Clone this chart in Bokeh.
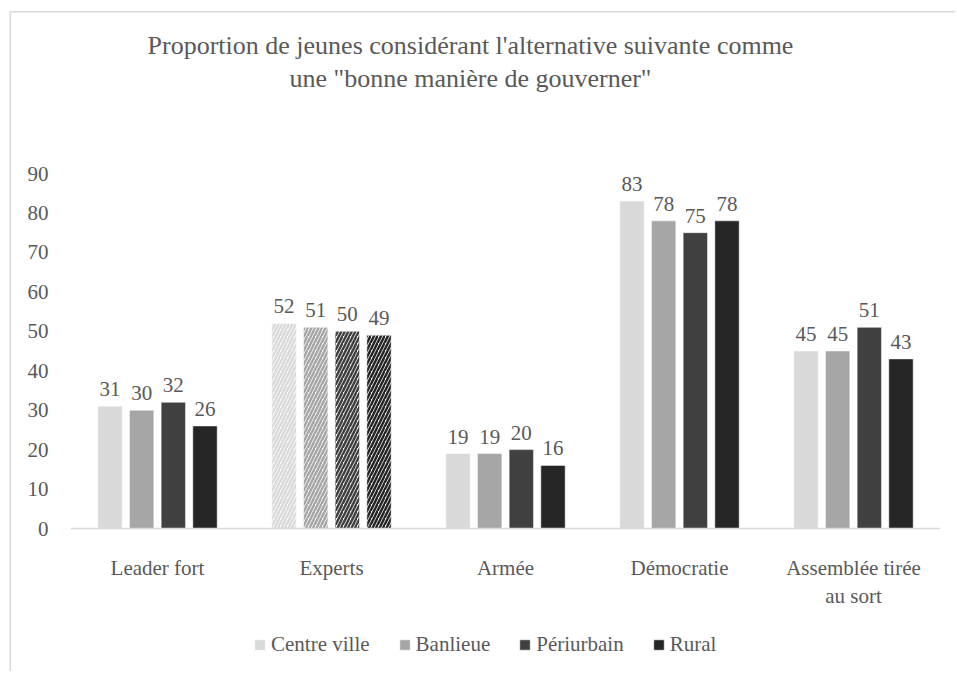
from bokeh.plotting import figure
from bokeh.models import ColumnDataSource, FactorRange, Legend, LegendItem, Label
from bokeh.transform import dodge
from bokeh.core.properties import value
from bokeh.embed import file_html
from bokeh.resources import INLINE

categories = ["Leader fort", "Experts", "Armée", "Démocratie", "Assemblée tirée\nau sort"]
series = ["Centre ville", "Banlieue", "Périurbain", "Rural"]
centre_ville = [31, 52, 19, 83, 45]
banlieue = [30, 51, 19, 78, 45]
periurbain = [32, 50, 20, 75, 51]
rural = [26, 49, 16, 78, 43]
colors = ["#d9d9d9", "#a6a6a6", "#404040", "#262626"]
hatched_category = "Experts"
y_ticks = [0, 10, 20, 30, 40, 50, 60, 70, 80, 90]
title_lines = ["Proportion de jeunes considérant l'alternative suivante comme",
               "une \"bonne manière de gouverner\""]

FONT = "Liberation Serif"
TXT = "#595959"
FS = "21px"

# frame covers the whole chart box; the value axis 0..90 sits at 528..173 px
FRAME_TOP, FRAME_BOTTOM = 12, 668
PX_PER_UNIT = (528 - 173) / 90.0
y_start = -(FRAME_BOTTOM - 528) / PX_PER_UNIT
y_end = (528 - FRAME_TOP) / PX_PER_UNIT

p = figure(x_range=FactorRange(*categories), y_range=(y_start, y_end),
           frame_width=870, frame_height=FRAME_BOTTOM - FRAME_TOP,
           output_backend="svg", toolbar_location=None,
           min_border_left=70, min_border_right=15, min_border_top=FRAME_TOP, min_border_bottom=3)
p.border_fill_color = None
p.background_fill_color = None
p.outline_line_color = None
p.styles = {"box-shadow": "inset 9.5px 11px 0 0 #ffffff, inset 11px 12.5px 0 0 #d9d9d9"}

# title lines (screen units relative to the frame's bottom-left corner)
for txt, page_y in zip(title_lines, [45, 78]):
    p.add_layout(Label(x=400, y=FRAME_BOTTOM - page_y, x_units="screen", y_units="screen", text=txt,
                       text_align="center", text_baseline="middle",
                       text_font=FONT, text_font_size="26px", text_color=TXT))

offsets = [-0.273, -0.091, 0.091, 0.273]
all_vals = [centre_ville, banlieue, periurbain, rural]
items = []
for name, vals, col, off in zip(series, all_vals, colors, offsets):
    fills = ["#ffffff" if c == hatched_category else col for c in categories]
    hatch = ["/" if c == hatched_category else " " for c in categories]
    src = ColumnDataSource(dict(x=categories, top=vals, fill=fills, hatch=hatch,
                                label=[str(v) for v in vals]))
    r = p.vbar(x=dodge("x", off, range=p.x_range), bottom=0, top="top", width=0.14, source=src,
               fill_color="fill", line_color="#ffffff", line_width=0.5,
               hatch_pattern="hatch", hatch_color=col, hatch_scale=7, hatch_weight=2.5)
    p.text(x=dodge("x", off, range=p.x_range), y="top", text="label", source=src,
           text_align="center", text_baseline="bottom", y_offset=-10,
           text_font=value(FONT), text_font_size=FS, text_color=TXT)
    items.append(LegendItem(label=name, renderers=[r], index=0))

p.xgrid.visible = False
p.ygrid.visible = False

p.yaxis.axis_line_color = None
p.yaxis.major_tick_line_color = None
p.yaxis.minor_tick_line_color = None
p.yaxis.major_tick_out = 0
p.yaxis.ticker = y_ticks
p.yaxis.major_label_standoff = 22
p.yaxis.major_label_text_font = FONT
p.yaxis.major_label_text_font_size = FS
p.yaxis.major_label_text_color = TXT

p.xaxis.fixed_location = 0
p.xaxis.axis_line_color = "#d9d9d9"
p.xaxis.axis_line_width = 1.5
p.xaxis.major_tick_line_color = None
p.xaxis.minor_tick_line_color = None
p.xaxis.major_tick_out = 0
p.xaxis.major_label_standoff = 27
p.xaxis.major_label_text_font = FONT
p.xaxis.major_label_text_font_size = FS
p.xaxis.major_label_text_color = TXT

legend = Legend(items=items, orientation="horizontal", location=(183, 11),
                label_text_font=FONT, label_text_font_size=FS, label_text_color=TXT,
                glyph_width=13, glyph_height=13, label_standoff=5, spacing=28,
                border_line_color=None, background_fill_color=None, background_fill_alpha=0,
                margin=0, padding=0)
p.add_layout(legend, "center")

open("out.html", "w").write(file_html(p, INLINE))
